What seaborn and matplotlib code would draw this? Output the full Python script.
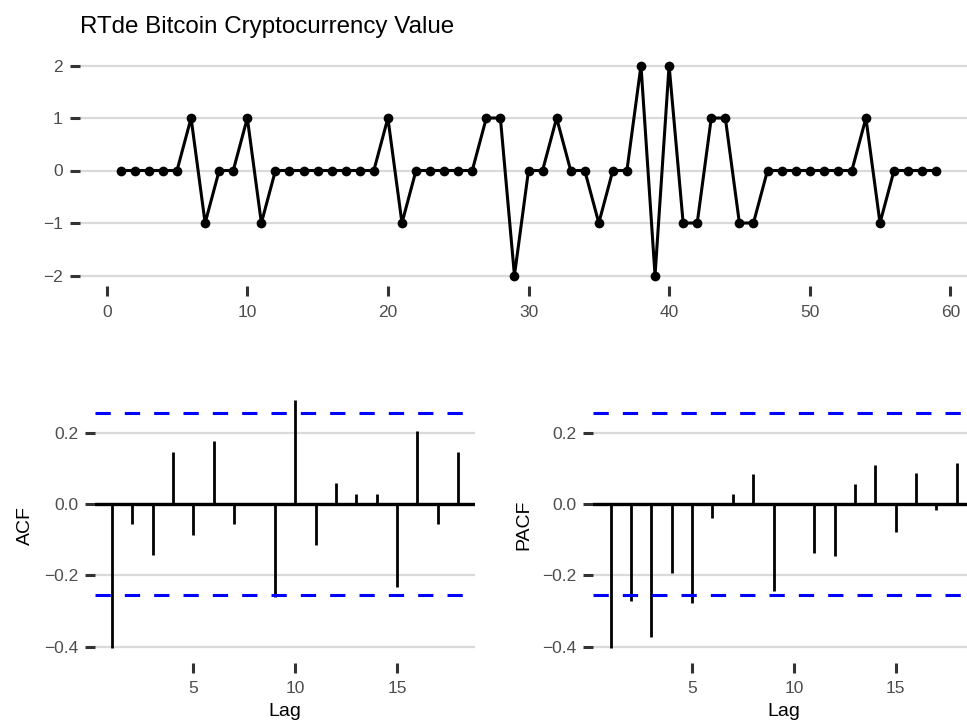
import numpy as np
import pandas as pd
import seaborn as sns
import matplotlib.pyplot as plt

# series values
t = list(range(1, 60))
value = [0, 0, 0, 0, 0, 1, -1, 0, 0, 1,
         -1, 0, 0, 0, 0, 0, 0, 0, 0, 1,
         -1, 0, 0, 0, 0, 0, 1, 1, -2, 0,
         0, 1, 0, 0, -1, 0, 0, 2, -2, 2,
         -1, -1, 1, 1, -1, -1, 0, 0, 0, 0,
         0, 0, 0, 1, -1, 0, 0, 0, 0]

lags = list(range(1, 19))
acf_vals = [-0.405, -0.057, -0.143, 0.146, -0.086, 0.175, -0.057, 0.0, -0.26,
            0.29, -0.115, 0.058, 0.029, 0.029, -0.232, 0.205, -0.057, 0.146]
pacf_vals = [-0.405, -0.271, -0.374, -0.194, -0.279, -0.039, 0.029, 0.083, -0.245,
             0.0, -0.137, -0.147, 0.056, 0.110, -0.078, 0.088, -0.018, 0.114]

conf = 1.96 / np.sqrt(len(value))

sns.set_theme(style="white")
plt.rcParams['font.family'] = ['Liberation Sans', 'DejaVu Sans']

grid_col = '#DADADA'
tick_col = '#4D4D4D'

fig = plt.figure(figsize=(9.67, 7.27), dpi=100)

def style_axis(ax, tick_len=7):
    for s in ax.spines.values():
        s.set_visible(False)
    ax.grid(False)
    ax.yaxis.grid(True, color=grid_col, linewidth=1.6)
    ax.set_axisbelow(True)
    ax.tick_params(axis='both', which='major', length=tick_len, width=2.2,
                   color='#333333', labelcolor=tick_col, labelsize=12.5, pad=5,
                   left=True, bottom=True)
    ax.tick_params(axis='x', pad=6)

# top: the series
ax1 = fig.add_axes([80 / 967, 1 - 286 / 727, 897 / 967, 231 / 727])
df = pd.DataFrame({'t': t, 'value': value})
sns.lineplot(data=df, x='t', y='value', ax=ax1, color='black', linewidth=2.2,
             marker='o', markersize=7, markeredgewidth=0)
ax1.set_xlim(-1.9, 61.9)
ax1.set_ylim(-2.2, 2.2)
ax1.set_xticks([0, 10, 20, 30, 40, 50, 60])
ax1.set_yticks([-2, -1, 0, 1, 2])
ax1.set_yticklabels(['\u22122', '\u22121', '0', '1', '2'])
ax1.set_xlabel('')
ax1.set_ylabel('')
style_axis(ax1, tick_len=7.5)
fig.text(80 / 967, 1 - 33 / 727, 'RTde Bitcoin Cryptocurrency Value',
         fontsize=17.4, color='black', ha='left', va='baseline')

def corr_panel(rect, vals, ylabel):
    ax = fig.add_axes(rect)
    ax.axhline(0, color='black', linewidth=2.4, zorder=2)
    ax.vlines(lags, 0, vals, color='black', linewidth=2.0, zorder=3)
    for c in (conf, -conf):
        ax.axhline(c, color='#0000FF', linewidth=2.2, linestyle=(0, (5, 4.6)), zorder=4)
    ax.set_xlim(0.15, 18.85)
    ax.set_ylim(-0.445, 0.325)
    ax.set_xticks([5, 10, 15])
    ax.set_yticks([-0.4, -0.2, 0.0, 0.2])
    ax.set_yticklabels(['\u22120.4', '\u22120.2', '0.0', '0.2'])
    style_axis(ax)
    ax.set_xlabel('Lag', fontsize=14, color='black', labelpad=5)
    ax.set_ylabel(ylabel, fontsize=14, color='black', labelpad=7)
    return ax

corr_panel([94.7 / 967, 1 - 662.6 / 727, 380.6 / 967, 274.6 / 727], acf_vals, 'ACF')
corr_panel([593.4 / 967, 1 - 662.6 / 727, 380.6 / 967, 274.6 / 727], pacf_vals, 'PACF')

fig.savefig('out.png', dpi=100)
